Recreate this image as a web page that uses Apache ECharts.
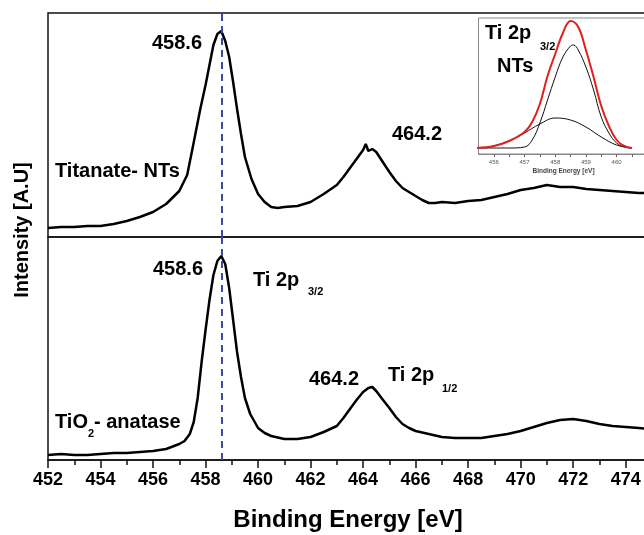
<!DOCTYPE html>
<html>
<head>
<meta charset="utf-8">
<script src="https://cdn.jsdelivr.net/npm/echarts@6/dist/echarts.min.js"></script>
<style>
html,body{margin:0;padding:0;background:#fff;}
#main{width:644px;height:535px;}
</style>
</head>
<body>
<div id="main"></div>
<script>
// Titanate nanotubes, top panel
var ntsEnergy = [452,452.5,453,453.5,454,454.5,455,455.5,456,456.5,457,457.3,457.5,457.8,458,458.15,458.3,458.45,458.6,458.75,458.9,459.05,459.2,459.35,459.5,459.75,460,460.25,460.5,460.75,461,461.5,462,462.5,463,463.25,463.5,463.75,464,464.1,464.2,464.35,464.5,464.65,464.8,465,465.25,465.5,465.75,466,466.25,466.5,466.75,467,467.5,468,468.5,469,469.5,470,470.5,471,471.5,472,472.5,473,473.5,474,474.5,474.85];
var ntsIntensity = [9,10,10,11,11,13,16,20,25,33,46,62,88,128,152,172,192,203,206,196,180,155,128,103,80,58,43,35,30,29,30,31,35,43,52,60,69,78,87,93,86,88,85,79,73,65,56,49,45,41,37,34,34,35,34,36,37,40,43,47,49,52,50,50,48,47,46,45,44,44];

// TiO2 anatase, bottom panel
var anaEnergy = [452,452.5,453,453.5,454,454.5,455,455.5,456,456.5,456.8,457,457.2,457.4,457.55,457.7,457.85,458,458.15,458.3,458.45,458.6,458.75,458.9,459.05,459.2,459.35,459.5,459.7,460,460.25,460.5,461,461.5,462,462.5,463,463.25,463.5,463.75,464,464.2,464.35,464.5,464.7,465,465.25,465.5,465.75,466,466.5,467,467.5,468,468.5,469,469.5,470,470.5,471,471.5,472,472.5,473,473.5,474,474.5,474.85];
var anaIntensity = [5,6,5,5,6,7,7,8,9,11,14,16,19,26,38,62,98,130,160,185,199,204,196,172,140,108,83,62,46,32,27,24,21,21,23,28,34,42,51,60,68,72,73,69,62,52,43,36,32,29,26,23,22,22,22,24,26,29,33,37,40,41,39,36,34,33,32,31];

// inset: Ti 2p3/2 fit of NTs
var fitEnergy = [455.4,456,456.5,457,457.25,457.5,457.75,458,458.25,458.5,458.75,459,459.25,459.5,459.75,460,460.25,460.5];
var envelope = [6,8,13,22,32,50,78,100,121,133,127,104,77,48,28,14,8,6];
var peakEnergy = [455.5,456.5,457,457.25,457.5,457.75,458,458.25,458.5,458.6,458.75,459,459.25,459.5,459.75,460,460.25,460.5];
var peakMain = [6,6,7,14,31,54,77,97,108,109,104,87,64,37,21,11,7,6];
var broadEnergy = [455.7,456,456.5,457,457.5,458,458.5,459,459.5,460,460.5];
var peakBroad = [6,8,13,21,30,36,34,27,17,9,6];

var xTicks = [452,454,456,458,460,462,464,466,468,470,472,474];
var insetTicks = [456,457,458,459,460];
var insetMinor = [456,456.5,457,457.5,458,458.5,459,459.5,460,460.5];
var peakPos = 458.6;

function zip(xs, ys){
	var out = [];
	for(var i=0;i<xs.length;i++){ out.push([xs[i], ys[i]]); }
	return out;
}

var chart = echarts.init(document.getElementById('main'));
var bold = {fontFamily:'Arial, Liberation Sans, sans-serif', fontWeight:'bold', fill:'#000'};
function txt(x, y, s, size, align){
	return {type:'text', x:x, y:y, z:50,
		style:Object.assign({text:s, fontSize:size, textAlign:align||'left', textVerticalAlign:'middle'}, bold)};
}

var dashLine = {
	silent:true, symbol:'none', label:{show:false},
	lineStyle:{color:'#3b49a8', type:[7,5], width:2},
	data:[{xAxis:peakPos}]
};

var option = {
	animation:false,
	backgroundColor:'#fff',
	grid:[
		{left:48, width:600, top:13, height:224, show:true, borderColor:'#111', borderWidth:1.5, outerBoundsMode:'none', containLabel:false},
		{left:48, width:600, top:237, height:223, show:true, borderColor:'#111', borderWidth:1.5, outerBoundsMode:'none', containLabel:false},
		{left:478.5, width:170, top:18, height:136, show:true, borderColor:'#888', borderWidth:1, backgroundColor:'#fff', z:10, outerBoundsMode:'none', containLabel:false}
	],
	xAxis:[
		{gridIndex:0, type:'value', min:452, max:474.85, interval:2,
			axisLine:{show:false}, axisTick:{show:false}, axisLabel:{show:false}, splitLine:{show:false}},
		{gridIndex:1, type:'value', min:452, max:474.85, interval:2,
			axisLine:{show:true, lineStyle:{color:'#111', width:1.5}},
			axisTick:{show:true, length:8, lineStyle:{color:'#111', width:1.5}},
			minorTick:{show:true, splitNumber:2, length:5, lineStyle:{color:'#111', width:1.5}},
			axisLabel:{show:true, margin:11, color:'#000', fontSize:18, fontWeight:'bold', fontFamily:'Arial, Liberation Sans, sans-serif',
				formatter:function(v){ return xTicks.indexOf(v) >= 0 ? String(v) : ''; }},
			splitLine:{show:false},
			name:'Binding Energy [eV]', nameLocation:'middle', nameGap:48,
			nameTextStyle:{color:'#000', fontSize:24, fontWeight:'bold', fontFamily:'Arial, Liberation Sans, sans-serif'}
		},
		{gridIndex:2, type:'value', min:455.5, max:461.04, z:11,
			axisLine:{show:true, lineStyle:{color:'#888', width:1}},
			axisTick:{show:true, length:3, customValues:insetMinor, lineStyle:{color:'#666'}},
			axisLabel:{show:true, margin:5, customValues:insetTicks, color:'#555', fontSize:6, fontFamily:'Arial, Liberation Sans, sans-serif'},
			splitLine:{show:false},
			name:'Binding Energy [eV]', nameLocation:'middle', nameGap:14,
			nameTextStyle:{color:'#444', fontSize:6.5, fontWeight:'bold', fontFamily:'Arial, Liberation Sans, sans-serif'}
		}
	],
	yAxis:[
		{gridIndex:0, type:'value', min:0, max:224, show:false, splitLine:{show:false}},
		{gridIndex:1, type:'value', min:0, max:223, show:false, splitLine:{show:false}},
		{gridIndex:2, type:'value', min:0, max:136, show:false, splitLine:{show:false}}
	],
	series:[
		{type:'line', xAxisIndex:0, yAxisIndex:0, data:zip(ntsEnergy, ntsIntensity), symbol:'none',
			lineStyle:{color:'#000', width:2.5}, markLine:dashLine, z:3},
		{type:'line', xAxisIndex:1, yAxisIndex:1, data:zip(anaEnergy, anaIntensity), symbol:'none',
			lineStyle:{color:'#000', width:2.5}, markLine:dashLine, z:3},
		{type:'line', xAxisIndex:2, yAxisIndex:2, data:zip(broadEnergy, peakBroad), symbol:'none', smooth:0.4,
			lineStyle:{color:'#111', width:1}, z:12},
		{type:'line', xAxisIndex:2, yAxisIndex:2, data:zip(peakEnergy, peakMain), symbol:'none', smooth:0.4,
			lineStyle:{color:'#111', width:1}, z:12},
		{type:'line', xAxisIndex:2, yAxisIndex:2, data:zip(fitEnergy, envelope), symbol:'none', smooth:0.4,
			lineStyle:{color:'#e0201b', width:2}, z:13}
	],
	graphic:[
		{type:'text', x:22, y:230, rotation:Math.PI/2, z:50,
			style:Object.assign({text:'Intensity [A.U]', fontSize:20, textAlign:'center', textVerticalAlign:'middle'}, bold)},
		txt(177, 43, '458.6', 20, 'center'),
		txt(417, 134, '464.2', 20, 'center'),
		txt(55, 171, 'Titanate- NTs', 20),
		txt(178, 269, '458.6', 20, 'center'),
		txt(253, 280, 'Ti 2p', 20),
		txt(308, 292, '3/2', 11),
		txt(334, 379, '464.2', 20, 'center'),
		txt(388, 375, 'Ti 2p', 20),
		txt(442, 389, '1/2', 11),
		txt(55, 422, 'TiO', 20),
		txt(88, 434, '2', 11),
		txt(94, 422, '- anatase', 20),
		txt(485, 33, 'Ti 2p', 20),
		txt(540, 47, '3/2', 11),
		txt(497, 66, 'NTs', 20)
	]
};
chart.setOption(option);
</script>
</body>
</html>
